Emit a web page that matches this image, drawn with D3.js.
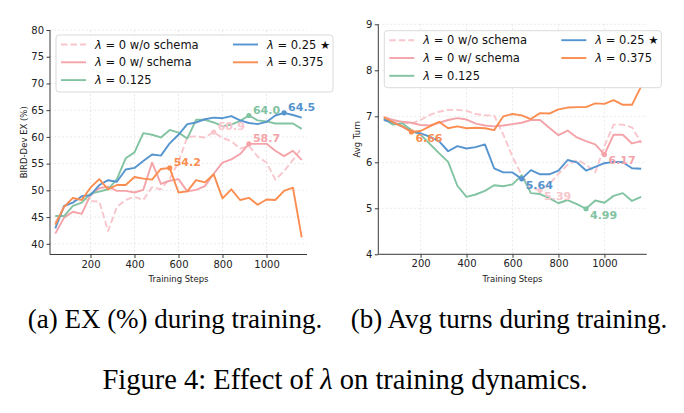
<!DOCTYPE html>
<html><head><meta charset="utf-8">
<script src="https://cdn.jsdelivr.net/npm/d3@7"></script>
<style>body{margin:0;background:#fff}svg{display:block}</style>
</head><body><svg id="c" width="684" height="413"></svg>
<script>
const steps = [40,80,120,160,200,240,280,320,360,400,440,480,520,560,600,640,680,720,760,800,840,880,920,960,1000,1040,1080,1120,1160];
const seriesNames = ["λ = 0 w/o schema","λ = 0 w/ schema","λ = 0.125","λ = 0.25 ★","λ = 0.375"];
// EX (%)
const exNoSchema = [44.0,46.8,48.0,48.6,48.0,47.9,42.4,46.9,48.2,48.8,48.2,50.6,50.2,52.2,55.3,60.0,60.1,59.9,60.9,59.8,59.2,57.8,58.3,56.3,55.2,52.0,53.6,55.7,58.0];
const exSchema   = [41.9,44.9,46.0,45.6,49.1,50.4,50.7,49.9,49.9,49.6,50.1,55.2,51.2,51.8,52.1,49.8,50.1,50.8,53.1,55.2,55.8,56.8,58.7,58.7,58.7,57.4,56.4,57.4,55.7];
const exL125     = [45.2,45.2,47.1,47.7,49.4,49.75,50.2,52.1,56.0,57.1,60.7,60.4,59.9,61.3,60.8,59.7,63.2,63.2,62.7,62.0,62.3,63.0,64.0,63.1,62.9,62.5,62.5,62.5,61.5];
const exL25      = [42.9,47.1,47.7,48.9,49.1,51.0,51.9,51.6,53.9,54.2,55.5,56.7,56.5,58.8,60.4,62.4,62.7,63.3,63.6,63.5,63.9,63.1,62.6,62.4,62.8,64.0,64.5,64.1,63.6];
const exL375     = [43.6,46.9,48.6,48.2,50.5,52.1,50.2,51.0,51.0,52.5,52.2,52.0,54.0,54.2,49.6,49.8,51.9,51.5,53.0,48.5,50.2,48.2,48.6,47.3,48.3,48.2,49.9,50.5,41.2];
// Avg turns
const tNoSchema = [6.98,6.92,6.86,6.84,6.92,7.03,7.10,7.14,7.14,7.12,7.05,7.02,7.02,6.60,6.12,5.72,5.45,5.39,5.52,5.75,5.95,6.05,5.95,5.78,6.35,6.82,6.82,6.76,6.42];
const tSchema   = [6.98,6.92,6.88,6.86,6.81,6.80,6.86,6.92,6.96,6.93,6.84,6.80,6.78,6.80,6.83,6.86,6.92,6.92,6.75,6.59,6.69,6.54,6.46,6.39,6.17,6.60,6.60,6.41,6.46];
const tL125     = [6.95,6.82,6.85,6.70,6.60,6.40,6.20,6.01,5.49,5.25,5.30,5.38,5.50,5.48,5.52,5.72,5.33,5.31,5.22,5.11,5.18,5.09,4.99,5.17,5.12,5.27,5.33,5.16,5.25];
const tL25      = [6.92,6.87,6.78,6.67,6.63,6.56,6.46,6.24,6.35,6.30,6.33,6.39,5.87,5.78,5.78,5.64,5.83,5.74,5.74,5.82,6.05,6.00,5.82,5.90,5.98,6.01,6.00,5.87,5.86];
const tL375     = [6.98,6.87,6.78,6.66,6.68,6.78,6.88,6.74,6.78,6.74,6.75,6.74,6.70,7.00,7.05,7.02,6.94,7.07,7.06,7.15,7.19,7.20,7.20,7.28,7.27,7.35,7.25,7.25,7.65];
const xTicks = [200,400,600,800,1000];
const exTicks = [40,45,50,55,60,65,70,75,80];
const turnTicks = [4,5,6,7,8,9];

const colors = ["#f8c6cc","#f4a3a9","#82c3a2","#5594cf","#fb8d50"];
const dashed = [true,false,false,false,false];

const svg = d3.select("#c");
const FONT = "DejaVu Sans, sans-serif";

function panel(cfg){
  const x = d3.scaleLinear().domain([16,1184]).range([cfg.x0,cfg.x1]);
  const y = d3.scaleLinear().domain(cfg.ydom).range([cfg.y1,cfg.y0]);
  const g = svg.append("g");
  // grid
  g.append("g").selectAll("line").data(xTicks).join("line")
    .attr("x1",d=>x(d)).attr("x2",d=>x(d)).attr("y1",cfg.y0).attr("y2",cfg.y1)
    .attr("stroke","#e4e4e4").attr("stroke-width",0.8).attr("stroke-dasharray","2,2");
  g.append("g").selectAll("line").data(cfg.yticks).join("line")
    .attr("x1",cfg.x0).attr("x2",cfg.x1).attr("y1",d=>y(d)).attr("y2",d=>y(d))
    .attr("stroke","#e4e4e4").attr("stroke-width",0.8).attr("stroke-dasharray","2,2");
  // axes
  const ax = g.append("g").attr("transform",`translate(0,${cfg.y1})`)
    .call(d3.axisBottom(x).tickValues(xTicks).tickSize(3.5).tickPadding(2.5).tickFormat(d3.format("d")));
  const ay = g.append("g").attr("transform",`translate(${cfg.x0},0)`)
    .call(d3.axisLeft(y).tickValues(cfg.yticks).tickSize(3.5).tickPadding(2.5).tickFormat(d3.format("d")));
  ax.select(".domain").attr("d",`M${cfg.x0},0H${cfg.x1}`);
  ay.select(".domain").attr("d",`M0,${cfg.y1}V${cfg.y0}`);
  [ax,ay].forEach(a=>{
    a.selectAll("path,line").attr("stroke","#3a3a3a").attr("stroke-width",1);
    a.selectAll("text").attr("font-family",FONT).attr("font-size",10).attr("fill","#222");
  });
  // labels
  g.append("text").attr("x",(cfg.x0+cfg.x1)/2).attr("y",cfg.y1+25).attr("text-anchor","middle")
    .attr("dominant-baseline","middle").attr("font-family",FONT).attr("font-size",8.5).attr("fill","#222").text("Training Steps");
  g.append("text").attr("transform",`translate(${cfg.ylx},${(cfg.y0+cfg.y1)/2}) rotate(-90)`)
    .attr("text-anchor","middle").attr("dominant-baseline","middle").attr("font-family",FONT)
    .attr("font-size",8.5).attr("fill","#222").text(cfg.ylabel);
  // lines
  const line = d3.line().x((d,i)=>x(steps[i])).y(d=>y(d));
  cfg.series.forEach((s,k)=>{
    g.append("path").attr("d",line(s)).attr("fill","none").attr("stroke",colors[k])
      .attr("stroke-width",1.9).attr("stroke-linejoin","round")
      .attr("stroke-dasharray",dashed[k]?"6.5,3":null);
  });
  // markers + annotations
  cfg.series.forEach((s,k)=>{
    const idx = cfg.best(s);
    const px = x(steps[idx]), py = y(s[idx]);
    g.append("circle").attr("cx",px).attr("cy",py).attr("r",2.6).attr("fill",colors[k]);
    g.append("text").attr("x",px+4).attr("y",py+cfg.labDy).attr("font-family",FONT)
      .attr("font-size",11).attr("font-weight","bold").attr("fill",colors[k])
      .text(s[idx].toFixed(cfg.dec));
  });
  // legend
  const lx = cfg.x0+6, ly = cfg.y0+cfg.legTop, lw=277, lh=57;
  const lg = g.append("g").attr("transform",`translate(${lx},${ly})`);
  lg.append("rect").attr("width",lw).attr("height",lh).attr("rx",3)
    .attr("fill","#fff").attr("fill-opacity",0.85).attr("stroke","#d6d6d6").attr("stroke-width",0.9);
  const pos = [[0,0],[0,1],[0,2],[1,0],[1,1]];
  seriesNames.forEach((name,k)=>{
    const cx = pos[k][0]*172, cy = 9.5 + pos[k][1]*17.8;
    lg.append("line").attr("x1",cx+5).attr("x2",cx+30).attr("y1",cy).attr("y2",cy)
      .attr("stroke",colors[k]).attr("stroke-width",1.9).attr("stroke-dasharray",dashed[k]?"6.5,3":null);
    const t = lg.append("text").attr("x",cx+39).attr("y",cy).attr("dominant-baseline","central")
      .attr("font-family",FONT).attr("font-size",11.5).attr("fill","#111");
    t.append("tspan").attr("font-style","italic").text(name[0]);
    t.append("tspan").text(name.slice(1));
  });
}

panel({x0:50,x1:307,y0:30,y1:254.5,ydom:[38,80],yticks:exTicks,ylabel:"BIRD-Dev EX (%)",ylx:24,
  series:[exNoSchema,exSchema,exL125,exL25,exL375],best:s=>d3.maxIndex(s),labDy:-2,dec:1,legTop:5});
panel({x0:378.3,x1:646.7,y0:24.3,y1:254.3,ydom:[4,9],yticks:turnTicks,ylabel:"Avg Turn",ylx:357,
  series:[tNoSchema,tSchema,tL125,tL25,tL375],best:s=>d3.minIndex(s),labDy:10,dec:2,legTop:6.4});

const SERIF = "Liberation Serif, Times New Roman, serif";
svg.append("text").attr("x",175).attr("y",328).attr("text-anchor","middle").attr("font-family",SERIF)
  .attr("font-size",27).attr("fill","#000").text("(a) EX (%) during training.");
svg.append("text").attr("x",509).attr("y",328).attr("text-anchor","middle").attr("font-family",SERIF)
  .attr("font-size",27).attr("fill","#000").text("(b) Avg turns during training.");
const fig = svg.append("text").attr("x",345).attr("y",389).attr("text-anchor","middle").attr("font-family",SERIF)
  .attr("font-size",28.5).attr("fill","#000");
fig.append("tspan").text("Figure 4: Effect of ");
fig.append("tspan").attr("font-style","italic").text("λ");
fig.append("tspan").text(" on training dynamics.");
</script></body></html>
